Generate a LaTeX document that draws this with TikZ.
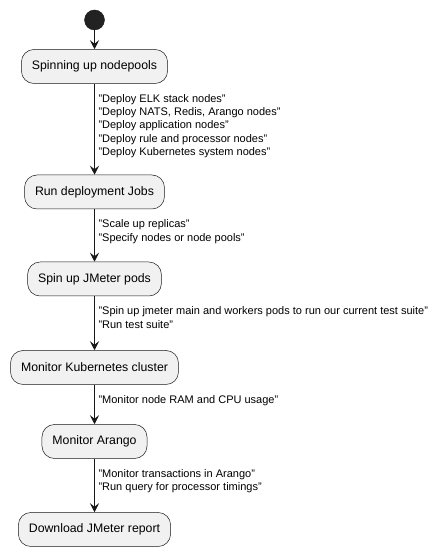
\documentclass[tikz,border=0pt]{standalone}
\usepackage{fontspec}
\setmainfont{Liberation Sans}
\usepackage{tikz}
\usetikzlibrary{arrows.meta,positioning,calc}
\definecolor{strokecol}{HTML}{181818}
\definecolor{actfill}{HTML}{F1F1F1}
\definecolor{startcol}{HTML}{222222}

\begin{document}
\begin{tikzpicture}[>={Stealth[length=9bp,width=9bp,inset=3.5bp]},line join=bevel,
  act/.style={draw=strokecol,fill=actfill,line width=0.5bp,rounded corners=12.5bp,
    minimum height=34bp,inner xsep=10.5bp,inner ysep=0bp,
    font=\fontsize{12.3bp}{14bp}\selectfont},
  flow/.style={->,draw=strokecol,line width=1bp},
  lbl/.style={anchor=north west,align=left,inner sep=0bp,xshift=3.5bp,yshift=-10bp,
    font=\fontsize{11bp}{13.3bp}\selectfont},
]
\useasboundingbox (0bp,0bp) rectangle (438bp,556bp);
\node[circle,fill=startcol,draw=strokecol,minimum size=20bp,inner sep=0bp] (start) at (94.5bp,536bp) {};
\node[act] (spin) at (94.5bp,489.5bp) {Spinning up nodepools};
\node[act] (jobs) at (94.5bp,364bp) {Run deployment Jobs};
\node[act] (jmeter) at (94.5bp,277bp) {Spin up JMeter pods};
\node[act] (kube) at (94.5bp,188.5bp) {Monitor Kubernetes cluster};
\node[act] (arango) at (94.5bp,114.5bp) {Monitor Arango};
\node[act] (report) at (94.5bp,26.5bp) {Download JMeter report};
 \draw [flow] (start) -- (spin);
 \draw [flow] (spin) -- (jobs) node[lbl,pos=0] {"Deploy ELK stack nodes"\\"Deploy NATS, Redis, Arango nodes"\\"Deploy application nodes"\\"Deploy rule and processor nodes"\\"Deploy Kubernetes system nodes"};
 \draw [flow] (jobs) -- (jmeter) node[lbl,pos=0] {"Scale up replicas"\\"Specify nodes or node pools"};
 \draw [flow] (jmeter) -- (kube) node[lbl,pos=0] {"Spin up jmeter main and workers pods to run our current test suite"\\"Run test suite"};
 \draw [flow] (kube) -- (arango) node[lbl,pos=0] {"Monitor node RAM and CPU usage"};
 \draw [flow] (arango) -- (report) node[lbl,pos=0] {"Monitor transactions in Arango"\\"Run query for processor timings"};
\end{tikzpicture}
\end{document}
